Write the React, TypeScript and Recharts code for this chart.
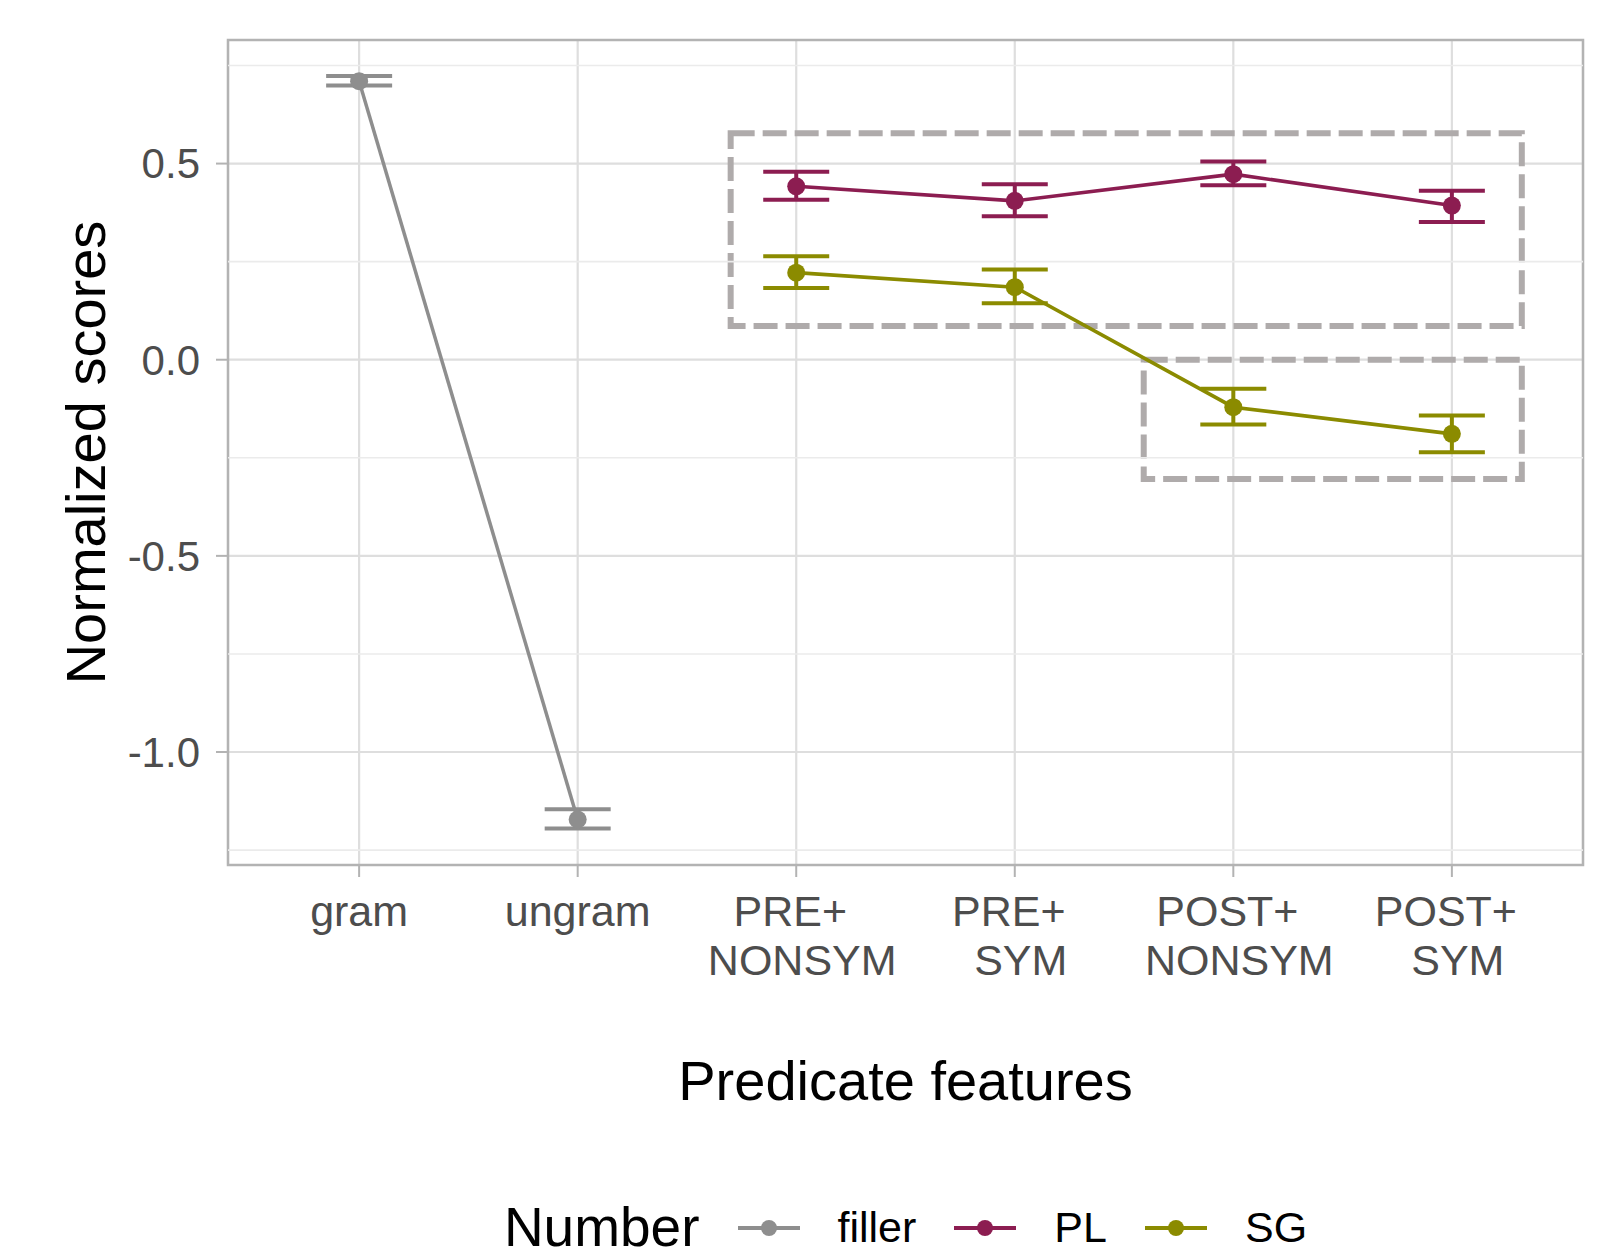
import React from "react";
import {
  LineChart, Line, XAxis, YAxis, CartesianGrid, ErrorBar, ReferenceArea, ReferenceLine, Legend,
} from "recharts";

// x positions are category indices on a numeric axis so the dashed boxes can sit between ticks
const categories = ["gram", "ungram", "PRE+ \n NONSYM", "PRE+ \n SYM", "POST+ \n NONSYM", "POST+ \n SYM"];
const categoryIdx = [0, 1, 2, 3, 4, 5];
const groups = ["filler", "PL", "SG"];

const fillerIdx = [0, 1];
const fillerMean = [0.71, -1.172];
const fillerLow = [0.699, -1.195];
const fillerHigh = [0.723, -1.146];

const conditionIdx = [2, 3, 4, 5];
const plMean = [0.442, 0.405, 0.473, 0.393];
const plLow = [0.408, 0.366, 0.445, 0.351];
const plHigh = [0.479, 0.447, 0.505, 0.431];

const sgMean = [0.222, 0.185, -0.121, -0.189];
const sgLow = [0.183, 0.144, -0.165, -0.236];
const sgHigh = [0.264, 0.23, -0.074, -0.142];

const yTicks = [-1, -0.5, 0, 0.5];
const yMinor = [-1.25, -0.75, -0.25, 0.25, 0.75];
const xDomain = [-0.6, 5.6];
const yDomain = [-1.288, 0.815];

// highlighted regions (x in category units, y in score units)
const boxX1 = [1.7, 3.59];
const boxX2 = [5.32, 5.32];
const boxY1 = [0.086, -0.304];
const boxY2 = [0.577, 0.0];

const FONT = '"Liberation Sans", Arial, sans-serif';
const COLORS = { filler: "#8E8E8E", PL: "#8C1D51", SG: "#8B8B00" };

function build(idx: number[], mean: number[], low: number[], high: number[]) {
  return idx.map((x, i) => ({
    x,
    score: mean[i],
    err: [mean[i] - low[i], high[i] - mean[i]],
  }));
}

const fillerData = build(fillerIdx, fillerMean, fillerLow, fillerHigh);
const plData = build(conditionIdx, plMean, plLow, plHigh);
const sgData = build(conditionIdx, sgMean, sgLow, sgHigh);

function CategoryTick(props: any) {
  const { x, y, payload } = props;
  const lines = String(categories[payload.value] ?? "").split("\n");
  return (
    <text x={x} y={y} textAnchor="middle" fontSize={43} fill="#4D4D4D" fontFamily={FONT} style={{ whiteSpace: "pre" }}>
      {lines.map((l, i) => (
        <tspan key={i} x={x} dy={i === 0 ? "0.71em" : "1.15em"}>{l}</tspan>
      ))}
    </text>
  );
}

function NumberLegend({ payload }: any) {
  const items = [...(payload || [])].sort(
    (a: any, b: any) => groups.indexOf(a.value) - groups.indexOf(b.value),
  );
  return (
    <div style={{
      display: "flex", justifyContent: "center", alignItems: "center",
      height: 64, paddingTop: 3, boxSizing: "border-box", fontFamily: FONT, color: "#000",
    }}>
      <span style={{ fontSize: 55, lineHeight: 1 }}>Number</span>
      {items.map((entry: any) => (
        <React.Fragment key={entry.value}>
          <svg width={62} height={20} style={{ marginLeft: 38 }}>
            <line x1={0} x2={62} y1={10} y2={10} stroke={entry.color} strokeWidth={4} />
            <circle cx={31} cy={10} r={8} fill={entry.color} />
          </svg>
          <span style={{ marginLeft: 38, fontSize: 43, lineHeight: 1 }}>{entry.value}</span>
        </React.Fragment>
      ))}
    </div>
  );
}

export default function App() {
  return (
    <div style={{ position: "absolute", left: 0, top: 0, fontFamily: FONT, background: "#fff" }}>
      <LineChart width={1609} height={1258} margin={{ top: 40, right: 26, bottom: 0, left: 0 }}>
        <CartesianGrid stroke="#DEDEDE" strokeWidth={2.2} />
        {yMinor.map((v) => (
          <ReferenceLine key={v} y={v} stroke="#EBEBEB" strokeWidth={1.6} />
        ))}
        <XAxis
          type="number"
          dataKey="x"
          domain={xDomain}
          ticks={categoryIdx}
          interval={0}
          allowDataOverflow
          height={329}
          tickSize={12}
          tickMargin={18}
          axisLine={false}
          tickLine={{ stroke: "#B3B3B3", strokeWidth: 2 }}
          tick={<CategoryTick />}
          label={{ value: "Predicate features", position: "insideTop", offset: 195, fontSize: 56, fill: "#000" }}
        />
        <YAxis
          type="number"
          domain={yDomain}
          ticks={yTicks}
          allowDataOverflow
          width={228}
          tickSize={12}
          tickMargin={16}
          axisLine={false}
          tickLine={{ stroke: "#B3B3B3", strokeWidth: 2 }}
          tick={{ fontSize: 42, fill: "#4D4D4D", fontFamily: FONT }}
          tickFormatter={(v: number) => v.toFixed(1)}
          label={{
            value: "Normalized scores", angle: -90, position: "insideLeft", offset: 85,
            fontSize: 56, fill: "#000", style: { textAnchor: "middle" },
          }}
        />
        <ReferenceArea x1={xDomain[0]} x2={xDomain[1]} y1={yDomain[0]} y2={yDomain[1]}
          fill="none" fillOpacity={0} stroke="#B3B3B3" strokeWidth={2.5} />
        {boxX1.map((x1, i) => (
          <ReferenceArea key={i} x1={x1} x2={boxX2[i]} y1={boxY1[i]} y2={boxY2[i]}
            fill="none" fillOpacity={0} stroke="#AFABAB" strokeWidth={6} strokeDasharray="24 8" />
        ))}
        <Line data={fillerData} dataKey="score" name="filler" stroke={COLORS.filler} strokeWidth={3.5}
          dot={{ r: 9, fill: COLORS.filler, stroke: "none" }} activeDot={false} isAnimationActive={false}>
          <ErrorBar dataKey="err" direction="y" width={33} stroke={COLORS.filler} strokeWidth={4} />
        </Line>
        <Line data={plData} dataKey="score" name="PL" stroke={COLORS.PL} strokeWidth={3.6}
          dot={{ r: 9, fill: COLORS.PL, stroke: "none" }} activeDot={false} isAnimationActive={false}>
          <ErrorBar dataKey="err" direction="y" width={33} stroke={COLORS.PL} strokeWidth={4} />
        </Line>
        <Line data={sgData} dataKey="score" name="SG" stroke={COLORS.SG} strokeWidth={3.6}
          dot={{ r: 9, fill: COLORS.SG, stroke: "none" }} activeDot={false} isAnimationActive={false}>
          <ErrorBar dataKey="err" direction="y" width={33} stroke={COLORS.SG} strokeWidth={4} />
        </Line>
        <Legend verticalAlign="bottom" content={<NumberLegend />}
          wrapperStyle={{ left: 228, width: 1355, bottom: 0 }} />
      </LineChart>
    </div>
  );
}
